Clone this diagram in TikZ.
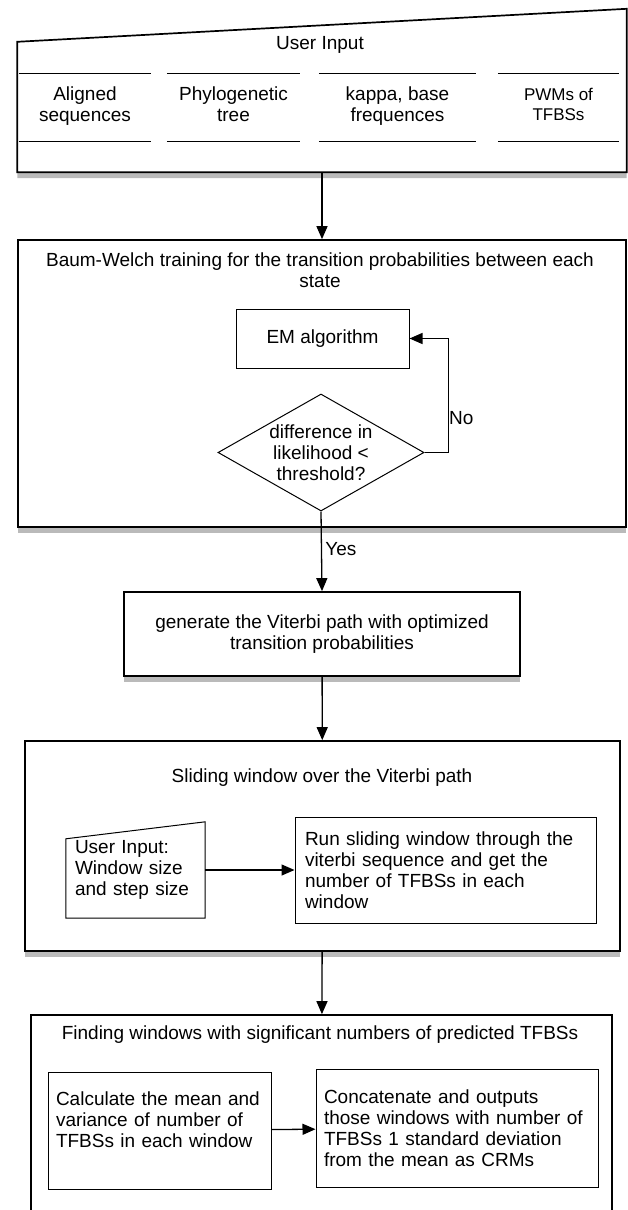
\documentclass[tikz,border=0pt]{standalone}
\usepackage{fontspec}
\setmainfont{Liberation Sans}
\usetikzlibrary{shapes.geometric,arrows.meta,shadows,positioning}

\begin{document}
\begin{tikzpicture}[
    x=1pt, y=-1pt,
    font=\fontsize{19}{21}\selectfont,
    shadowed/.style={drop shadow={shadow xshift=0pt, shadow yshift=-6pt, opacity=0.45, fill=black!60}},
    outer/.style={rectangle, draw, line width=1.7pt, fill=white, shadowed},
    inner/.style={rectangle, draw, line width=1pt, fill=white},
    leftbox/.style={inner, align=left, inner xsep=8pt},
    decision/.style={diamond, draw, line width=1pt, inner sep=0pt},
    field/.style={align=center, minimum height=67pt, inner sep=0pt, execute at begin node=\strut, execute at end node=\strut},
    heading/.style={align=center, inner sep=0pt},
    arrow/.style={-{Triangle[length=13pt,width=11pt]}, line width=1.3pt}
]
\useasboundingbox (0,0) rectangle (628,1210);
\clip (0,0) rectangle (628,1210);
\fill[white] (0,0) rectangle (628,1210);

% User input
\node[minimum width=609pt, minimum height=163pt, inner sep=0pt] (input) at (322,90.5) {};
\draw[line width=1.7pt, fill=white, shadowed] (input.south west) -- (input.south east) -- (input.north east) -- ([yshift=-33pt]input.north west) -- cycle;
\node[heading] (inputtitle) at (320,45) {User Input};

% Input fields
\node[field, minimum width=132pt] (seqs) at (85,107.5) {Aligned\\sequences};
\node[field, minimum width=133pt] (tree) at (233.5,107.5) {Phylogenetic\\tree};
\node[field, minimum width=157pt] (kappa) at (397.5,107.5) {kappa, base\\frequences};
\node[field, minimum width=121pt, font=\fontsize{17}{20}\selectfont] (pwms) at (558.5,107.5) {PWMs of\\TFBSs};
\foreach \f in {seqs,tree,kappa,pwms}
  \draw[line width=1pt] (\f.north west) -- (\f.north east) (\f.south west) -- (\f.south east);

% Baum-Welch training
\node[outer, minimum width=608pt, minimum height=287pt] (train) at (322,383.5) {};
\node[heading] (traintitle) at (320,270.5) {Baum-Welch training for the transition probabilities between each\\state};
\node[inner, minimum width=173pt, minimum height=59pt] (em) at (322.5,338.5) {EM algorithm};
\node[decision, minimum width=206pt, minimum height=117pt,
      label={[align=center, inner sep=0pt]center:{difference in\\likelihood <\\threshold?}}] (check) at (321,452.5) {};
\draw[arrow] (check.east) -- ++(24,0) |- (em.east);
\node[anchor=west, inner sep=0pt] (no) at (449,418) {No};

% Viterbi path
\node[outer, minimum width=396pt, minimum height=84pt, align=center] (viterbi) at (322,634) {generate the Viterbi path with optimized\\transition probabilities};

% Sliding window
\node[outer, minimum width=595pt, minimum height=210pt] (sliding) at (322.5,846) {};
\node[heading] (slidingtitle) at (322,778) {Sliding window over the Viterbi path};
\node[align=left, minimum width=139pt, minimum height=96pt, text width=121pt, inner xsep=9pt] (window) at (135.5,870) {User Input:\\Window size\\and step size};
\draw[line width=1pt] (window.south west) -- (window.south east) -- (window.north east) -- ([yshift=-17pt]window.north west) -- cycle;
\node[leftbox, minimum width=301pt, minimum height=106pt, text width=281pt, inner xsep=10pt] (run) at (445.5,870) {Run sliding window through the\\viterbi sequence and get the\\number of TFBSs in each\\window};

% Significant windows
\node[outer, minimum width=581pt, minimum height=245pt] (finding) at (321.5,1137.5) {};
\node[heading] (findingtitle) at (320,1035) {Finding windows with significant numbers of predicted TFBSs};
\node[leftbox, minimum width=223pt, minimum height=117pt, text width=207pt] (stats) at (159.5,1130.5) {Calculate the mean and\\variance of number of\\TFBSs in each window\\\mbox{}};
\node[leftbox, minimum width=282pt, minimum height=118pt, text width=266pt] (concat) at (457,1128) {Concatenate and outputs\\those windows with number of\\TFBSs 1 standard deviation\\from the mean as CRMs};

% Arrows
\draw[arrow] (input) -- (train);
\draw[arrow] (check.south) -- node[right, pos=0.47] {Yes} (viterbi.north);
\draw[arrow] (viterbi) -- (sliding);
\draw[arrow] (window) -- (run);
\draw[arrow] (sliding) -- (finding);
\draw[arrow] (stats) -- (concat);

\end{tikzpicture}
\end{document}
